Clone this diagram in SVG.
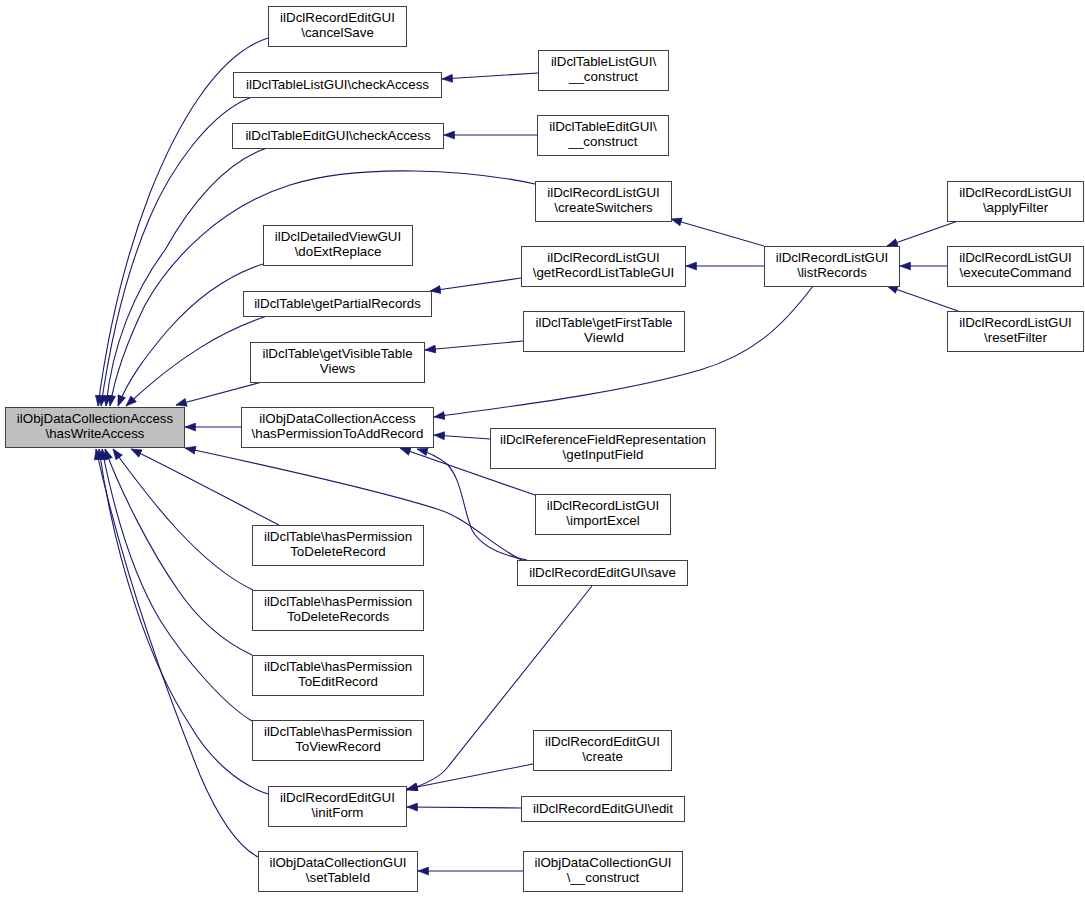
<svg xmlns="http://www.w3.org/2000/svg" width="1085" height="897" viewBox="0 0 1085 897">
<style>
.node rect{fill:#ffffff;stroke:#404040;stroke-width:1}
.node.main rect{fill:#bfbfbf}
.node text{font-family:"Liberation Sans",Arial,sans-serif;font-size:13.33px;text-anchor:middle;fill:#000000}
.edges path{fill:none;stroke:#191970;stroke-width:1.1;marker-end:url(#ah)}
</style>
<defs>
<marker id="ah" markerUnits="userSpaceOnUse" markerWidth="11" markerHeight="9" refX="11" refY="4.5" orient="auto" viewBox="0 0 11 9">
<path d="M0.5,0.5 L11,4.5 L0.5,8.5 z" fill="#191970" stroke="#191970" stroke-width="0.6"/>
</marker>
</defs>
<rect x="0" y="0" width="1085" height="897" fill="#ffffff"/>
<g id="edges" class="edges">
<path d="M268,38 C215,55 175,130 150,193 C125,258 108,330 98,406"/>
<path d="M252,97 C210,112 170,170 150,217 C128,268 112,330 101,406"/>
<path d="M267,148 C225,162 190,205 165,250 C135,290 112,345 106,406"/>
<path d="M535,184 C470,170 360,163 290,185 C220,207 170,260 145,305 C128,340 115,375 110,406"/>
<path d="M263,264 C220,278 190,305 168,330 C145,357 128,380 118,406"/>
<path d="M267,316 C225,330 180,355 126,406"/>
<path d="M262,382 L176,405"/>
<path d="M241,427 L185,427"/>
<path d="M522,560 C495,548 470,520 440,510 C380,490 250,462 185,448"/>
<path d="M279,525 C230,500 175,470 131,449"/>
<path d="M253,590 C200,565 150,500 113,449"/>
<path d="M252,655 C220,640 195,615 178,590 C150,550 120,490 105,449"/>
<path d="M252,721 C225,705 185,660 160,620 C130,570 112,500 102,449"/>
<path d="M268,794 C240,785 210,760 190,725 C150,665 115,560 99,449"/>
<path d="M258,857 C235,845 215,810 200,775 C170,700 125,580 96,449"/>
<path d="M538,73 L442,79"/>
<path d="M537,135 L444,135"/>
<path d="M764,246 L671,219"/>
<path d="M764,266 L686,266"/>
<path d="M521,278 L430,291"/>
<path d="M523,341 L425,350"/>
<path d="M813,286 C780,330 750,355 700,370 C620,393 520,405 434,417"/>
<path d="M490,439 L434,435"/>
<path d="M535,495 L400,448"/>
<path d="M527,560 C500,555 480,545 472,530 C462,505 462,480 447,464 C438,457 428,452 417,449"/>
<path d="M958,221 L887,246"/>
<path d="M947,266 L900,266"/>
<path d="M958,311 L887,286"/>
<path d="M592,586 L447,768 C440,777 426,784 407,790"/>
<path d="M533,764 L407,789"/>
<path d="M521,808 L407,807"/>
<path d="M523,871 L418,871"/>
</g>
<g id="n0" class="node main"><rect x="5.5" y="407.5" width="179" height="40"/><text x="95" y="423">ilObjDataCollectionAccess</text><text x="95" y="438">\hasWriteAccess</text></g>
<g id="n1" class="node"><rect x="268.5" y="6.5" width="138" height="40"/><text x="337.5" y="22">ilDclRecordEditGUI</text><text x="337.5" y="37">\cancelSave</text></g>
<g id="n2" class="node"><rect x="233.5" y="72.5" width="208" height="25"/><text x="337.5" y="89">ilDclTableListGUI\checkAccess</text></g>
<g id="n3" class="node"><rect x="232.5" y="123.5" width="211" height="25"/><text x="338" y="140">ilDclTableEditGUI\checkAccess</text></g>
<g id="n4" class="node"><rect x="535.5" y="181.5" width="136" height="40"/><text x="603.5" y="197">ilDclRecordListGUI</text><text x="603.5" y="212">\createSwitchers</text></g>
<g id="n5" class="node"><rect x="263.5" y="225.5" width="149" height="40"/><text x="338" y="241">ilDclDetailedViewGUI</text><text x="338" y="256">\doExtReplace</text></g>
<g id="n6" class="node"><rect x="243.5" y="291.5" width="188" height="25"/><text x="337.5" y="308">ilDclTable\getPartialRecords</text></g>
<g id="n7" class="node"><rect x="250.5" y="342.5" width="174" height="40"/><text x="337.5" y="358">ilDclTable\getVisibleTable</text><text x="337.5" y="373">Views</text></g>
<g id="n8" class="node"><rect x="241.5" y="407.5" width="192" height="40"/><text x="337.5" y="423">ilObjDataCollectionAccess</text><text x="337.5" y="438">\hasPermissionToAddRecord</text></g>
<g id="n9" class="node"><rect x="517.5" y="560.5" width="170" height="25"/><text x="602.5" y="577">ilDclRecordEditGUI\save</text></g>
<g id="n10" class="node"><rect x="252.5" y="525.5" width="171" height="40"/><text x="338" y="541">ilDclTable\hasPermission</text><text x="338" y="556">ToDeleteRecord</text></g>
<g id="n11" class="node"><rect x="252.5" y="590.5" width="171" height="40"/><text x="338" y="606">ilDclTable\hasPermission</text><text x="338" y="621">ToDeleteRecords</text></g>
<g id="n12" class="node"><rect x="252.5" y="655.5" width="171" height="40"/><text x="338" y="671">ilDclTable\hasPermission</text><text x="338" y="686">ToEditRecord</text></g>
<g id="n13" class="node"><rect x="252.5" y="720.5" width="171" height="40"/><text x="338" y="736">ilDclTable\hasPermission</text><text x="338" y="751">ToViewRecord</text></g>
<g id="n14" class="node"><rect x="268.5" y="786.5" width="138" height="40"/><text x="337.5" y="802">ilDclRecordEditGUI</text><text x="337.5" y="817">\initForm</text></g>
<g id="n15" class="node"><rect x="258.5" y="851.5" width="159" height="40"/><text x="338" y="867">ilObjDataCollectionGUI</text><text x="338" y="882">\setTableId</text></g>
<g id="n16" class="node"><rect x="538.5" y="50.5" width="130" height="40"/><text x="603.5" y="66">ilDclTableListGUI\</text><text x="603.5" y="81">__construct</text></g>
<g id="n17" class="node"><rect x="537.5" y="115.5" width="131" height="40"/><text x="603" y="131">ilDclTableEditGUI\</text><text x="603" y="146">__construct</text></g>
<g id="n18" class="node"><rect x="521.5" y="246.5" width="164" height="40"/><text x="603.5" y="262">ilDclRecordListGUI</text><text x="603.5" y="277">\getRecordListTableGUI</text></g>
<g id="n19" class="node"><rect x="523.5" y="311.5" width="161" height="40"/><text x="604" y="327">ilDclTable\getFirstTable</text><text x="604" y="342">ViewId</text></g>
<g id="n20" class="node"><rect x="764.5" y="246.5" width="135" height="40"/><text x="832" y="262">ilDclRecordListGUI</text><text x="832" y="277">\listRecords</text></g>
<g id="n21" class="node"><rect x="490.5" y="428.5" width="225" height="40"/><text x="603" y="444">ilDclReferenceFieldRepresentation</text><text x="603" y="459">\getInputField</text></g>
<g id="n22" class="node"><rect x="535.5" y="494.5" width="135" height="40"/><text x="603" y="510">ilDclRecordListGUI</text><text x="603" y="525">\importExcel</text></g>
<g id="n23" class="node"><rect x="947.5" y="181.5" width="136" height="40"/><text x="1015.5" y="197">ilDclRecordListGUI</text><text x="1015.5" y="212">\applyFilter</text></g>
<g id="n24" class="node"><rect x="947.5" y="246.5" width="136" height="40"/><text x="1015.5" y="262">ilDclRecordListGUI</text><text x="1015.5" y="277">\executeCommand</text></g>
<g id="n25" class="node"><rect x="947.5" y="311.5" width="136" height="40"/><text x="1015.5" y="327">ilDclRecordListGUI</text><text x="1015.5" y="342">\resetFilter</text></g>
<g id="n26" class="node"><rect x="533.5" y="730.5" width="138" height="40"/><text x="602.5" y="746">ilDclRecordEditGUI</text><text x="602.5" y="761">\create</text></g>
<g id="n27" class="node"><rect x="521.5" y="796.5" width="163" height="25"/><text x="603" y="813">ilDclRecordEditGUI\edit</text></g>
<g id="n28" class="node"><rect x="523.5" y="851.5" width="159" height="40"/><text x="603" y="867">ilObjDataCollectionGUI</text><text x="603" y="882">\__construct</text></g>
</svg>
